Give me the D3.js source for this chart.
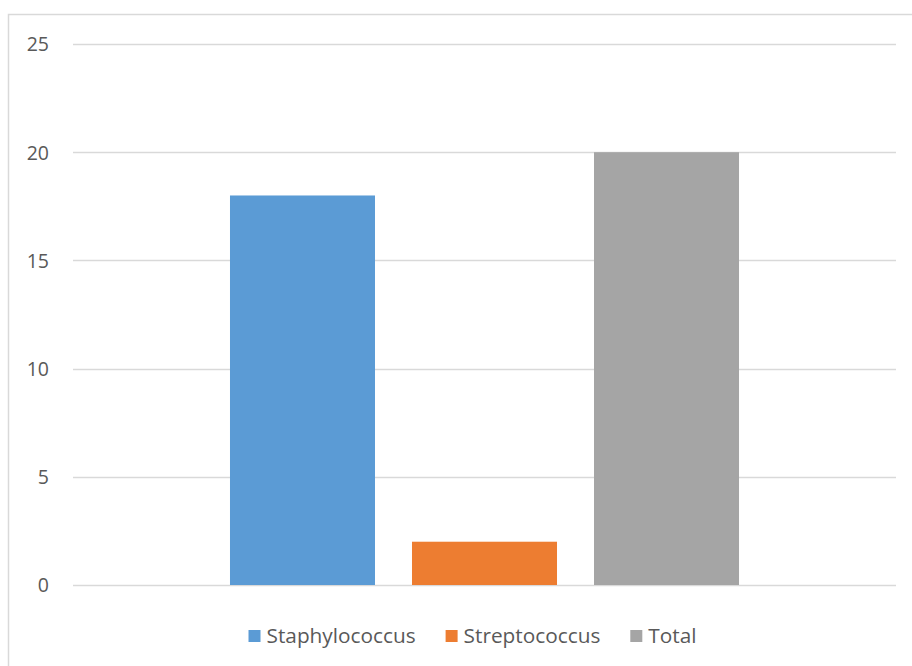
<!DOCTYPE html>
<html>
<head>
<meta charset="utf-8">
<script src="https://cdn.jsdelivr.net/npm/d3@7"></script>
<style>
  html, body { margin: 0; padding: 0; background: #fff; }
  svg { display: block; }
  text { font-family: "Open Sans", "Noto Sans", sans-serif; fill: #595959; }
</style>
</head>
<body>
<svg id="chart" width="912" height="666"></svg>
<script>
// Data
const category = ["Bacteria"];
const seriesNames = ["Staphylococcus", "Streptococcus", "Total"];
const seriesValues = [18, 2, 20];
const seriesColors = ["#5B9BD5", "#ED7D31", "#A5A5A5"];
const yTicks = [0, 5, 10, 15, 20, 25];

const svg = d3.select("#chart");
const W = 912, H = 666;

// Chart frame
svg.append("rect")
  .attr("x", 8.5).attr("y", 14.5)
  .attr("width", W).attr("height", H)
  .attr("fill", "#fff").attr("stroke", "#D9D9D9").attr("stroke-width", 1.5);

const plot = { left: 73, right: 896, top: 44, bottom: 585 };

const y = d3.scaleLinear().domain([0, 25]).range([plot.bottom, plot.top]);

const x0 = d3.scaleBand().domain(category).range([plot.left, plot.right]).paddingInner(0).paddingOuter(0.3084);
const x1 = d3.scaleBand().domain(seriesNames).range([0, x0.bandwidth()]).paddingInner(0.2033);

// Gridlines
svg.append("g").selectAll("line").data(yTicks).join("line")
  .attr("x1", plot.left).attr("x2", plot.right)
  .attr("y1", d => Math.round(y(d)) + 0.5).attr("y2", d => Math.round(y(d)) + 0.5)
  .attr("stroke", "#D9D9D9").attr("stroke-width", 1.3);

// Y-axis labels
const yAxis = d3.axisLeft(y).tickValues(yTicks).tickSize(0).tickPadding(0);
const gy = svg.append("g").attr("transform", "translate(49,0)").call(yAxis);
gy.select(".domain").remove();
gy.attr("font-size", null).attr("font-family", null);
gy.selectAll("text")
  .attr("font-size", 19.5)
  .attr("fill", "#595959")
  .attr("dy", "0.35em");

// Bars
svg.append("g").selectAll("rect")
  .data(seriesNames.map((n, i) => ({ name: n, value: seriesValues[i], color: seriesColors[i] })))
  .join("rect")
  .attr("x", d => x0(category[0]) + x1(d.name))
  .attr("width", x1.bandwidth())
  .attr("y", d => y(d.value))
  .attr("height", d => y(0) - y(d.value))
  .attr("fill", d => d.color);

// Legend
const legend = svg.append("g");
const items = legend.selectAll("g").data(seriesNames).join("g");
items.append("rect").attr("width", 12).attr("height", 12).attr("y", -6)
  .attr("fill", (d, i) => seriesColors[i]);
items.append("text").attr("x", 18).attr("dy", "0.35em")
  .attr("font-size", 20.8).text(d => d);
let cx = 0;
items.each(function () {
  d3.select(this).attr("transform", `translate(${cx},0)`);
  cx += 18 + this.querySelector("text").getComputedTextLength() + 30;
});
const totalW = cx - 30;
legend.attr("transform", `translate(${472.5 - totalW / 2},636)`);
</script>
</body>
</html>
